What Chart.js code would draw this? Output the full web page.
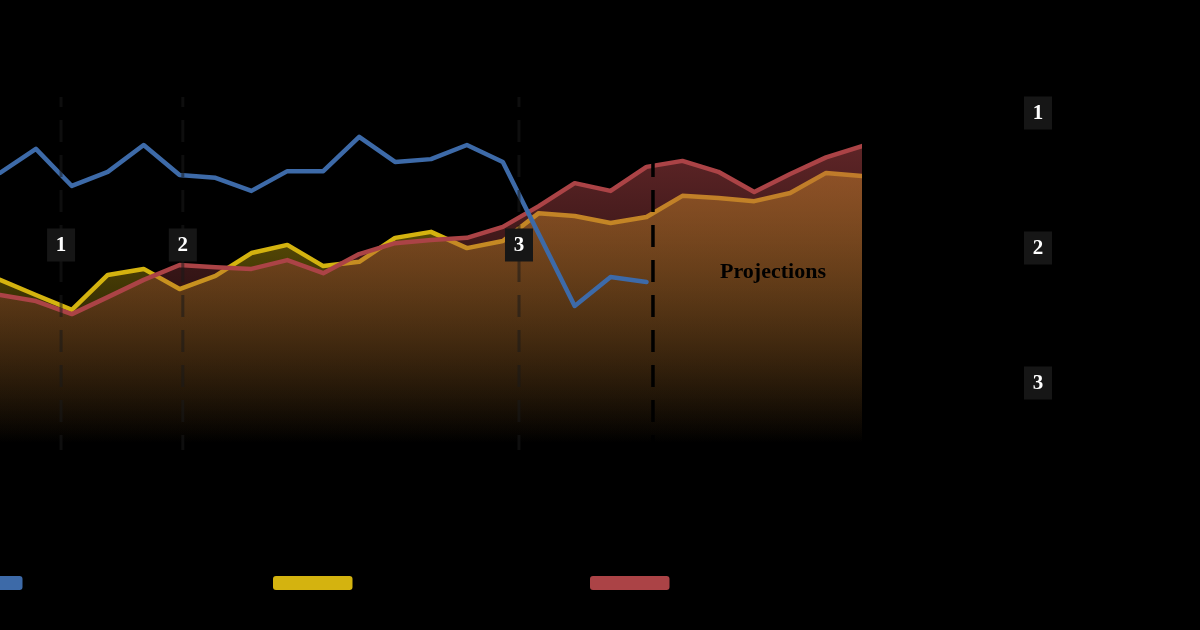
<!DOCTYPE html>
<html><head><meta charset="utf-8">
<style>html,body{margin:0;padding:0;background:#000}canvas{display:block}</style>
<script src="https://cdn.jsdelivr.net/npm/chart.js@4"></script>
</head><body><canvas id="c" width="1200" height="630"></canvas>
<script>
const periods=[0,1,2,3,4,5,6,7,8,9,10,11,12,13,14,15,16,17,18,19,20,21,22,23,24];
const blueValues=[78.5,85.3,74.8,78.8,86.4,77.9,77.1,73.4,79.0,79.0,88.7,81.6,82.4,86.4,81.6,61.2,40.8,49.0,47.6];
const yellowValues=[48.2,43.9,39.7,49.6,51.3,45.6,49.3,55.8,58.1,52.1,53.3,60.1,61.8,57.2,59.2,67.1,66.3,64.3,66.0,72.0,71.4,70.5,72.8,78.5,77.6];
const redValues=[43.9,42.2,38.5,43.3,48.2,52.4,51.8,51.3,53.8,50.1,55.5,58.6,59.5,60.1,63.2,69.1,75.6,73.4,80.2,81.9,78.8,73.1,78.2,82.9,86.1];
const eventPositions=[1.70,5.09,14.45];
const eventLabels=["1","2","3"];
const projectionStart=18.18;
const projectionLabel="Projections";
const BLUE="#3d6aa8",YELLOW="#d4b30f",RED="#ab4346";
const SERIF='"Liberation Serif","DejaVu Serif",serif';
const pts=a=>a.map((y,i)=>({x:periods[i],y}));
const fade=(rgb,top)=>ctx=>{
  const ch=ctx.chart;if(!ch.chartArea)return 'transparent';
  const s=ch.scales.y;
  const g=ch.ctx.createLinearGradient(0,s.getPixelForValue(86),0,s.getPixelForValue(2));
  g.addColorStop(0,`rgba(${rgb},${top})`);g.addColorStop(1,`rgba(${rgb},0)`);return g;
};
const vline=(x,color,order,w)=>({type:'line',data:[{x,y:100},{x,y:0}],borderColor:color,borderWidth:w,borderDash:[22,13],borderDashOffset:12,pointRadius:0,fill:false,order,tension:0});
const series=(d,color,order,bg)=>({data:pts(d),borderColor:color,borderWidth:4.5,pointRadius:0,tension:0,order,borderCapStyle:'round',borderJoinStyle:'round',fill:bg?'origin':false,backgroundColor:bg||'transparent'});
function box(c,cx,cy,t){
  c.fillStyle='#161616';c.fillRect(cx-14,cy-16.5,28,33);
  c.fillStyle='#fff';c.font='bold 21px '+SERIF;c.textAlign='center';c.textBaseline='middle';c.fillText(t,cx,cy+1);
}
const overlay={id:'overlay',afterDatasetsDraw(ch){
  const c=ch.ctx,xs=ch.scales.x;
  c.save();
  eventPositions.forEach((p,i)=>box(c,xs.getPixelForValue(p),245,eventLabels[i]));
  eventLabels.forEach((t,i)=>box(c,1038,113+135*i,t));
  c.fillStyle='#000';c.font='bold 22px '+SERIF;c.textAlign='center';c.textBaseline='middle';
  c.fillText(projectionLabel,773,272);
  [[-57,BLUE],[273,YELLOW],[590,RED]].forEach(([x,col])=>{
    c.fillStyle=col;c.beginPath();c.roundRect(x,576,79.5,14,3);c.fill();
  });
  c.restore();
}};
new Chart(document.getElementById('c'),{
  type:'line',
  data:{datasets:[
    vline(projectionStart,'#000',0,3.5),
    ...eventPositions.map(p=>vline(p,'rgba(26,26,26,0.55)',1,3)),
    series(blueValues,BLUE,2),
    series(redValues,RED,3,fade('171,67,70',0.55)),
    series(yellowValues,YELLOW,4,fade('212,179,15',0.58))
  ]},
  plugins:[overlay],
  options:{responsive:false,animation:false,parsing:true,
    layout:{padding:{left:0,right:338,top:97,bottom:180}},
    plugins:{legend:{display:false},tooltip:{enabled:false},title:{display:false}},
    scales:{
      x:{type:'linear',min:0,max:24,display:false},
      y:{min:0,max:100,display:false}
    }
  }
});
</script></body></html>
